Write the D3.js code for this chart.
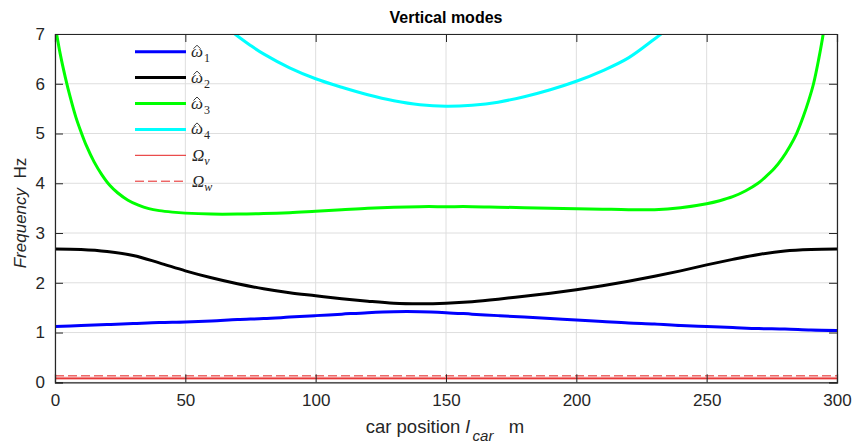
<!DOCTYPE html>
<html><head><meta charset="utf-8">
<script src="https://cdn.jsdelivr.net/npm/d3@7"></script>
<style>body{margin:0;background:#fff}svg{display:block}</style>
</head><body>
<svg id="c" width="853" height="446"></svg>
<script>
// ---- data ----
const xTicks = [0, 50, 100, 150, 200, 250, 300];
const yTicks = [0, 1, 2, 3, 4, 5, 6, 7];
const pos1 = [0,10,20,30,40,50,60,70,80,90,100,110,120,130,140,150,160,170,180,190,200,210,220,230,240,250,260,270,280,290,300];
const omega1 = [1.12,1.14,1.16,1.18,1.20,1.21,1.23,1.26,1.28,1.31,1.34,1.37,1.40,1.42,1.42,1.40,1.37,1.34,1.31,1.28,1.25,1.22,1.19,1.17,1.14,1.12,1.10,1.08,1.07,1.05,1.04];
const omega2 = [2.68,2.67,2.63,2.55,2.40,2.24,2.10,1.98,1.88,1.80,1.74,1.68,1.63,1.59,1.58,1.59,1.62,1.67,1.73,1.79,1.86,1.94,2.03,2.13,2.24,2.36,2.47,2.57,2.64,2.67,2.68];
const pos3 = [0,2,4,6,8,10,12,15,18,21,24,28,32,36,40,45,50,60,70,80,90,100,110,120,130,140,150,160,170,180,190,200,210,220,230,240,250,255,260,265,269.7,272,276,279,282,284.5,287,289,291,293,294.7,296];
const omega3 = [7.19,6.60,6.12,5.70,5.33,5.03,4.76,4.43,4.17,3.96,3.81,3.66,3.56,3.49,3.45,3.42,3.40,3.38,3.38,3.39,3.41,3.44,3.47,3.50,3.52,3.53,3.53,3.53,3.52,3.51,3.50,3.49,3.48,3.47,3.47,3.51,3.59,3.65,3.73,3.85,4.0,4.10,4.30,4.50,4.75,5.0,5.33,5.64,6.0,6.5,7.0,7.5];
const pos4 = [66,70,75,80,90,100,110,120,130,140,150,160,170,180,190,200,210,220,230,235];
const omega4 = [7.12,6.96,6.77,6.60,6.32,6.10,5.93,5.78,5.66,5.58,5.55,5.57,5.63,5.74,5.88,6.05,6.26,6.52,6.90,7.10];
const OmegaV = 0.08;
const OmegaW = 0.13;
const seriesNames = ["1","2","3","4"];
const seriesColors = ["#0000ff","#000000","#00ff00","#00ffff"];

// ---- layout ----
const svg = d3.select("#c");
const L = 55, R = 837, T = 34, B = 382.3;
const x = d3.scaleLinear().domain([0,300]).range([L,R]);
const y = d3.scaleLinear().domain([0,7]).range([B,T]);
const axisCol = "#262626";
const sans = "Liberation Sans, Arial, sans-serif";

svg.append("defs").append("clipPath").attr("id","clip")
  .append("rect").attr("x",L).attr("y",T).attr("width",R-L).attr("height",B-T);

// grid
const g = svg.append("g");
g.selectAll(".gx").data(xTicks).join("line")
  .attr("x1",d=>x(d)).attr("x2",d=>x(d)).attr("y1",T).attr("y2",B)
  .attr("stroke","#dedede").attr("stroke-width",1);
g.selectAll(".gy").data(yTicks).join("line")
  .attr("y1",d=>y(d)).attr("y2",d=>y(d)).attr("x1",L).attr("x2",R)
  .attr("stroke","#dedede").attr("stroke-width",1);

// curves
const plot = svg.append("g").attr("clip-path","url(#clip)");
const line = d3.line().x(d=>x(d[0])).y(d=>y(d[1])).curve(d3.curveCatmullRom);
const curves = [[pos1, omega1], [pos1, omega2], [pos3, omega3], [pos4, omega4]];
plot.append("line").attr("x1",x(0)).attr("x2",x(300)).attr("y1",y(OmegaV)).attr("y2",y(OmegaV))
  .attr("stroke","#f4a0a0").attr("stroke-width",3);
plot.append("line").attr("x1",x(0)).attr("x2",x(300)).attr("y1",y(OmegaV)).attr("y2",y(OmegaV))
  .attr("stroke","#e52020").attr("stroke-width",1);
plot.append("line").attr("x1",x(0)).attr("x2",x(300)).attr("y1",y(OmegaW)).attr("y2",y(OmegaW))
  .attr("stroke","#e52020").attr("stroke-width",1).attr("stroke-dasharray","9,4");
curves.forEach((c,i)=>{
  plot.append("path").datum(c[0].map((p,j)=>[p,c[1][j]]))
    .attr("d",line).attr("fill","none").attr("stroke",seriesColors[i]).attr("stroke-width",3)
    .attr("stroke-linejoin","round");
});

// axes box
const fmt = d3.format("d");
const ax = svg.append("g").attr("transform",`translate(0,${B})`)
  .call(d3.axisBottom(x).tickValues(xTicks).tickSize(-8).tickPadding(12).tickFormat(fmt));
const axT = svg.append("g").attr("transform",`translate(0,${T})`)
  .call(d3.axisTop(x).tickValues(xTicks).tickSize(-8).tickFormat(""));
const ay = svg.append("g").attr("transform",`translate(${L},0)`)
  .call(d3.axisLeft(y).tickValues(yTicks).tickSize(-8).tickPadding(10).tickFormat(fmt));
const ayR = svg.append("g").attr("transform",`translate(${R},0)`)
  .call(d3.axisRight(y).tickValues(yTicks).tickSize(-8).tickFormat(""));
[ax,axT,ay,ayR].forEach(a=>{
  a.select(".domain").attr("stroke",axisCol).attr("stroke-width",1.2);
  a.selectAll(".tick line").attr("stroke",axisCol).attr("stroke-width",1);
  a.selectAll("text").attr("fill",axisCol).attr("font-family",sans).attr("font-size",17);
});

// title
svg.append("text").attr("x",(L+R)/2).attr("y",23).attr("text-anchor","middle")
  .attr("font-family",sans).attr("font-weight","bold")
  .attr("font-size",16).attr("fill","#000").text("Vertical modes");

// x label
const xl = svg.append("text").attr("x",445).attr("y",433).attr("text-anchor","middle")
  .attr("font-family",sans).attr("font-size",18.5).attr("fill",axisCol);
xl.append("tspan").text("car position ");
xl.append("tspan").attr("font-style","italic").text("l");
xl.append("tspan").attr("font-style","italic").attr("font-size",15).attr("dy",8).attr("dx",3).text("car");
xl.append("tspan").attr("dy",-8).text("\u00a0\u00a0\u00a0m");

// y label
const yl = svg.append("text").attr("transform",`translate(26,213) rotate(-90)`)
  .attr("text-anchor","middle").attr("opacity",0.999)
  .attr("font-family",sans).attr("font-size",17).attr("fill","#262626");
yl.append("tspan").attr("font-style","italic").text("Frequency");
yl.append("tspan").text("\u00a0\u00a0Hz");

// legend
const lg = svg.append("g");
const lx0 = 135, lx1 = 186, ly0 = 51.7, ldy = 25.9;
const serif = "Liberation Serif, DejaVu Serif, serif";
seriesNames.forEach((n,i)=>{
  const yy = ly0 + i*ldy;
  lg.append("line").attr("x1",lx0).attr("x2",lx1).attr("y1",yy).attr("y2",yy)
    .attr("stroke",seriesColors[i]).attr("stroke-width",3);
  const t = lg.append("text").attr("x",191).attr("y",yy+5).attr("font-family",serif)
    .attr("font-size",17).attr("fill","#262626");
  t.append("tspan").attr("font-style","italic").text("\u03c9");
  t.append("tspan").attr("font-size",12).attr("dx",1).attr("dy",5).text(n);
  // circumflex accent
  lg.append("path")
    .attr("d",`M${193.5},${yy-3} L${197},${yy-6.5} L${200.5},${yy-3}`)
    .attr("fill","none").attr("stroke","#262626").attr("stroke-width",0.9);
});
[["v",""],["w","9,4"]].forEach((s,k)=>{
  const yy = ly0 + (4+k)*ldy;
  lg.append("line").attr("x1",lx0).attr("x2",lx1).attr("y1",yy).attr("y2",yy)
    .attr("stroke","#e52020").attr("stroke-width",1).attr("stroke-dasharray",s[1]||null);
  const t = lg.append("text").attr("x",192).attr("y",yy+6).attr("font-family",serif)
    .attr("font-size",17).attr("fill","#262626").attr("font-style","italic");
  t.append("tspan").text("Ω");
  t.append("tspan").attr("font-size",12).attr("dy",4).text(s[0]);
});
</script>
</body></html>
